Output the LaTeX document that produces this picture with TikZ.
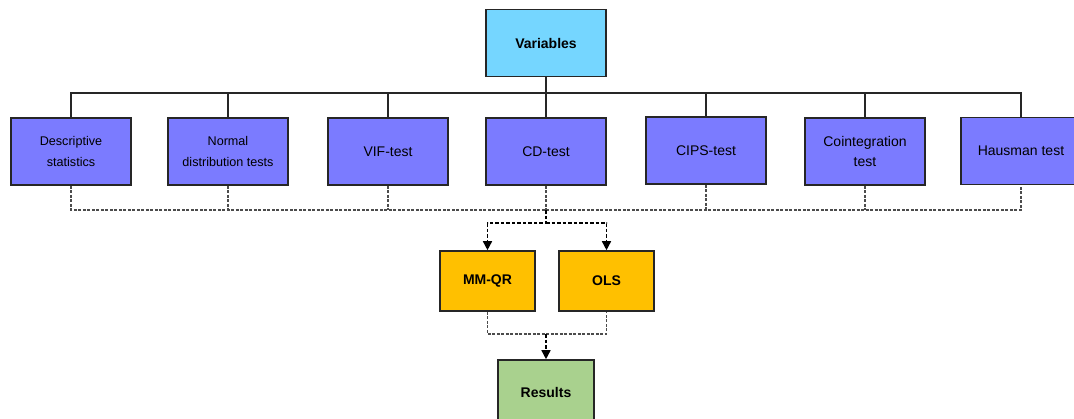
\documentclass[tikz,border=0pt]{standalone}
\usepackage{fontspec}
\setmainfont{Liberation Sans}
\usetikzlibrary{arrows.meta}
\definecolor{varblue}{HTML}{75D6FF}
\definecolor{testblue}{HTML}{7B7BFF}
\definecolor{modelorange}{HTML}{FFC000}
\definecolor{resgreen}{HTML}{A9D18E}

\begin{document}
\begin{tikzpicture}[x=1pt,y=-1pt,
  box/.style={draw=black!85, line width=1.6pt, inner sep=0pt, align=center, text=black},
  testbox/.style={box, fill=testblue, minimum width=120pt, minimum height=67pt},
  small/.style={font=\fontsize{12.6}{21}\selectfont},
  large/.style={font=\fontsize{14}{20}\selectfont},
  bold/.style={font=\fontsize{14}{17}\selectfont\bfseries},
  solidline/.style={draw=black!85, line width=1.2pt},
  dashline/.style={draw=black!70, line width=1.2pt, dash pattern=on 3pt off 1.5pt},
  flowarrow/.style={draw=black, line width=1.5pt, dash pattern=on 3.5pt off 2pt, -{Triangle[length=9pt,width=9pt]}}]
\useasboundingbox (0,0) rectangle (1074,418);
\node[box, fill=varblue, minimum width=120pt, minimum height=67pt, bold] (var) at (546,43) {Variables};
\node[testbox, small] (desc) at (71,151.5) {Descriptive\\statistics};
\node[testbox, small] (norm) at (228,151.5) {Normal\\distribution tests};
\node[testbox, large] (vif) at (388,151.5) {VIF-test};
\node[testbox, large] (cd) at (546,151.5) {CD-test};
\node[testbox, large] (cips) at (706,150.5) {CIPS-test};
\node[testbox, large] (coint) at (865,151.5) {Cointegration\\test};
\node[testbox, large] (haus) at (1021,151) {Hausman test};
\node[box, fill=modelorange, minimum width=95pt, minimum height=60pt, bold] (mmqr) at (487.5,281) {MM-QR};
\node[box, fill=modelorange, minimum width=95pt, minimum height=60pt, bold] (ols) at (606.5,281) {OLS};
\node[box, fill=resgreen, minimum width=96pt, minimum height=64pt, bold] (res) at (546,392) {Results};
\coordinate (bus) at (0,93);
\coordinate (dbus) at (0,210);
\coordinate (split) at (546,223);
\coordinate (merge) at (546,334);
\draw[solidline] (var.south) -- (var.south |- bus);
\draw[solidline] (desc.north) -- (desc.north |- bus) -- (haus.north |- bus) -- (haus.north);
\draw[solidline] (norm.north) -- (norm.north |- bus);
\draw[solidline] (vif.north) -- (vif.north |- bus);
\draw[solidline] (cd.north) -- (cd.north |- bus);
\draw[solidline] (cips.north) -- (cips.north |- bus);
\draw[solidline] (coint.north) -- (coint.north |- bus);
\draw[dashline] (desc.south) -- (desc.south |- dbus) -- (haus.south |- dbus) -- (haus.south);
\draw[dashline] (norm.south) -- (norm.south |- dbus);
\draw[dashline] (vif.south) -- (vif.south |- dbus);
\draw[dashline] (cd.south) -- (cd.south |- dbus);
\draw[dashline] (cips.south) -- (cips.south |- dbus);
\draw[dashline] (coint.south) -- (coint.south |- dbus);
\draw[flowarrow] (cd.south |- dbus) -- (split) -| (mmqr.north);
\draw[flowarrow] (split) -| (ols.north);
\draw[dashline] (mmqr.south) -- (mmqr.south |- merge) -- (ols.south |- merge) -- (ols.south);
\draw[flowarrow] (merge) -- (res.north);
\end{tikzpicture}
\end{document}
